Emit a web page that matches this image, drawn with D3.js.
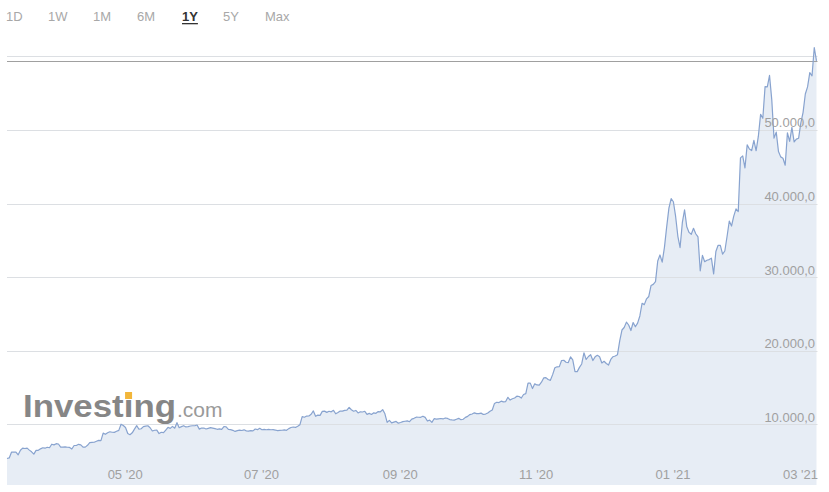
<!DOCTYPE html>
<html>
<head>
<meta charset="utf-8">
<script src="https://cdn.jsdelivr.net/npm/d3@7/dist/d3.min.js"></script>
<style>
  html, body { margin: 0; padding: 0; background: #fff; }
  svg { display: block; font-family: "Liberation Sans", Arial, sans-serif; }
</style>
</head>
<body>
<svg id="chart"></svg>
<script>
// Chart size (same as the window)
const width = 829, height = 492;

// Range buttons shown above the chart
const ranges = ["1D", "1W", "1M", "6M", "1Y", "5Y", "Max"];
const activeRange = "1Y";

// Daily closes, one array per month (first day of data is 2020-03-17)
const firstDay = "2020-03-17";
const mar20 = [5330, 5410, 6190, 6200, 6190, 5830, 6460, 6740, 6690, 6740, 6470, 6240, 5920, 6430, 6440];
const apr20 = [6640, 6790, 6730, 6860, 6790, 7270, 7180, 7340, 7300, 6870,
               6880, 6910, 6860, 6840, 6620, 7100, 7100, 7260, 7190, 6880,
               6880, 7120, 7480, 7510, 7540, 7680, 7790, 7760, 8780, 8620];
const may20 = [8830, 8970, 8900, 8880, 9030, 9150, 9990, 9810, 9540, 8730,
               8570, 8820, 9320, 9790, 9310, 9380, 9670, 9730, 9780, 9510,
               9070, 9170, 9180, 8720, 8900, 8840, 9200, 9570, 9430, 9700, 9450];
const jun20 = [10200, 9520, 9660, 9790, 9620, 9670, 9750, 9780, 9780, 9880,
               9320, 9480, 9470, 9340, 9430, 9520, 9460, 9390, 9300, 9360,
               9300, 9680, 9620, 9290, 9250, 9160, 9010, 9120, 9190, 9140];
const jul20 = [9230, 9090, 9060, 9130, 9080, 9340, 9250, 9430, 9240, 9290,
               9240, 9300, 9240, 9250, 9200, 9130, 9150, 9170, 9210, 9160,
               9390, 9540, 9610, 9550, 9710, 9930, 11030, 10940, 11100, 11110, 11350];
const aug20 = [11800, 11070, 11230, 11190, 11740, 11770, 11600, 11750, 11680, 11880,
               11410, 11580, 11780, 11770, 11870, 11910, 12280, 11960, 11760, 11860,
               11520, 11680, 11650, 11750, 11330, 11460, 11320, 11540, 11470, 11710, 11680];
const sep20 = [11970, 11410, 10250, 10510, 10170, 10280, 10370, 10130, 10230, 10340,
               10390, 10440, 10330, 10680, 10790, 10950, 10940, 10930, 11080, 10920,
               10420, 10540, 10240, 10740, 10690, 10730, 10770, 10710, 10840, 10780];
const oct20 = [10620, 10570, 10550, 10670, 10790, 10600, 10670, 10920, 11060, 11300,
               11380, 11540, 11430, 11430, 11500, 11320, 11370, 11510, 11750, 11920,
               12820, 12980, 12930, 13130, 13030, 13070, 13650, 13280, 13460, 13560, 13800];
const nov20 = [13760, 13550, 14030, 14150, 15590, 15580, 14840, 15480, 15330, 15300,
               15700, 16280, 16330, 16070, 15960, 16730, 17660, 17800, 17820, 18650,
               18690, 18420, 18370, 19150, 18730, 17150, 17140, 17720, 18180, 19700];
const dec20 = [18790, 19200, 19440, 18650, 19150, 19360, 19170, 18320, 18550, 18250,
               18030, 18800, 19170, 19270, 19440, 21310, 22800, 23140, 23870, 23480,
               22730, 23820, 23240, 23730, 24710, 26440, 26250, 27040, 27360, 28840, 29000];
const jan21 = [29370, 32190, 33000, 32020, 34040, 36820, 39370, 40670, 40240, 38240,
               35540, 34010, 37390, 39150, 36830, 36070, 35820, 36630, 35890, 35470,
               30850, 32950, 32080, 32290, 32370, 32570, 30430, 33470, 34320, 34300, 33110];
const feb21 = [33540, 35510, 37620, 36940, 38290, 39270, 38900, 46200, 46480, 44840,
               47970, 47400, 47190, 48580, 47170, 49150, 52120, 51590, 55890, 55850,
               57410, 54090, 48890, 49700, 47060, 46340, 46150, 45200];
const mar21 = [49600, 48440, 50350, 48370, 48760, 48880, 50970, 52390, 54890, 55850,
               57800, 57360, 61200, 59400];

// Axis values
const gridValues = [10000, 20000, 30000, 40000, 50000, 60000];
const labelValues = [10000, 20000, 30000, 40000, 50000];

const closes = [].concat(mar20, apr20, may20, jun20, jul20, aug20, sep20,
                         oct20, nov20, dec20, jan21, feb21, mar21);
const start = d3.timeParse("%Y-%m-%d")(firstDay);
const data = closes.map((v, i) => ({ date: d3.timeDay.offset(start, i), value: v }));

const svg = d3.select("#chart")
  .attr("width", width)
  .attr("height", height);

// Plot box
const left = 7, right = 817.5, bottom = 485;

const x = d3.scaleTime()
  .domain(d3.extent(data, d => d.date))
  .range([left, 816.5]);

const y = d3.scaleLinear()
  .domain([0, 60000])
  .range([497.7, 56.4]);

// Range buttons
const btnX = [6, 48, 93, 137, 182, 223, 265];
const btns = svg.append("g").attr("class", "ranges");
ranges.forEach((r, i) => {
  const t = btns.append("text")
    .attr("x", btnX[i])
    .attr("y", 20.5)
    .attr("font-size", 13)
    .attr("fill", r === activeRange ? "#333" : "#a8a8a8")
    .attr("font-weight", r === activeRange ? "bold" : "normal")
    .text(r);
  if (r === activeRange) {
    const w = t.node().getComputedTextLength();
    btns.append("rect")
      .attr("x", btnX[i])
      .attr("y", 23)
      .attr("width", w)
      .attr("height", 1.3)
      .attr("fill", "#333");
  }
});

// Area under the price line
const area = d3.area()
  .x(d => x(d.date))
  .y0(bottom)
  .y1(d => y(d.value));

svg.append("path")
  .datum(data)
  .attr("d", area)
  .attr("fill", "#e7edf5");

// Horizontal grid
svg.append("g")
  .selectAll("line")
  .data(gridValues)
  .join("line")
  .attr("x1", left)
  .attr("x2", right)
  .attr("y1", d => Math.round(y(d)) + 0.5)
  .attr("y2", d => Math.round(y(d)) + 0.5)
  .attr("stroke", "#dcdfe3")
  .attr("stroke-width", 1);

// Last price line
const last = data[data.length - 1];
svg.append("line")
  .attr("x1", left)
  .attr("x2", right)
  .attr("y1", Math.round(y(last.value)) + 0.5)
  .attr("y2", Math.round(y(last.value)) + 0.5)
  .attr("stroke", "#a0a0a0")
  .attr("stroke-width", 1);

// Price line
const line = d3.line()
  .x(d => x(d.date))
  .y(d => y(d.value));

svg.append("path")
  .datum(data)
  .attr("d", line)
  .attr("fill", "none")
  .attr("stroke", "#88a3cf")
  .attr("stroke-width", 1.2)
  .attr("stroke-linejoin", "round");

// Y labels (European number format)
const fmt = d3.formatLocale({ decimal: ",", thousands: ".", grouping: [3], currency: ["", ""] })
  .format(",.1f");

svg.append("g")
  .selectAll("text")
  .data(labelValues)
  .join("text")
  .attr("x", 815)
  .attr("y", d => y(d) - 2.5)
  .attr("text-anchor", "end")
  .attr("font-size", 13)
  .attr("fill", "#a0a0a0")
  .text(d => fmt(d));

// X labels, every two months, text starts at the tick
const xTicks = d3.timeMonth.range(new Date(2020, 4, 1), new Date(2021, 3, 1), 2);
const xFmt = d3.timeFormat("%m '%y");
svg.append("g")
  .selectAll("text")
  .data(xTicks)
  .join("text")
  .attr("y", 479)
  .attr("font-size", 13)
  .attr("fill", "#a0a0a0")
  .text(d => xFmt(d))
  .attr("x", function (d) {
    const w = this.getComputedTextLength();
    return Math.min(x(d), 818 - w);
  });

// Watermark logo
const logo = svg.append("g").attr("class", "logo");
const word = logo.append("text")
  .attr("x", 23)
  .attr("y", 417)
  .attr("font-size", 31)
  .attr("font-weight", "bold")
  .attr("fill", "#868686")
  .attr("textLength", 153)
  .attr("lengthAdjust", "spacingAndGlyphs")
  .text("Investing");
logo.append("text")
  .attr("x", 177)
  .attr("y", 417)
  .attr("font-size", 21)
  .attr("fill", "#9a9a9a")
  .text(".com");

// Yellow dot over the "i"
const ext = word.node().getExtentOfChar(6);
logo.append("rect")
  .attr("x", ext.x + ext.width / 2 - 3.5)
  .attr("y", 392)
  .attr("width", 7)
  .attr("height", 7)
  .attr("fill", "#f2b63a");
</script>
</body>
</html>
